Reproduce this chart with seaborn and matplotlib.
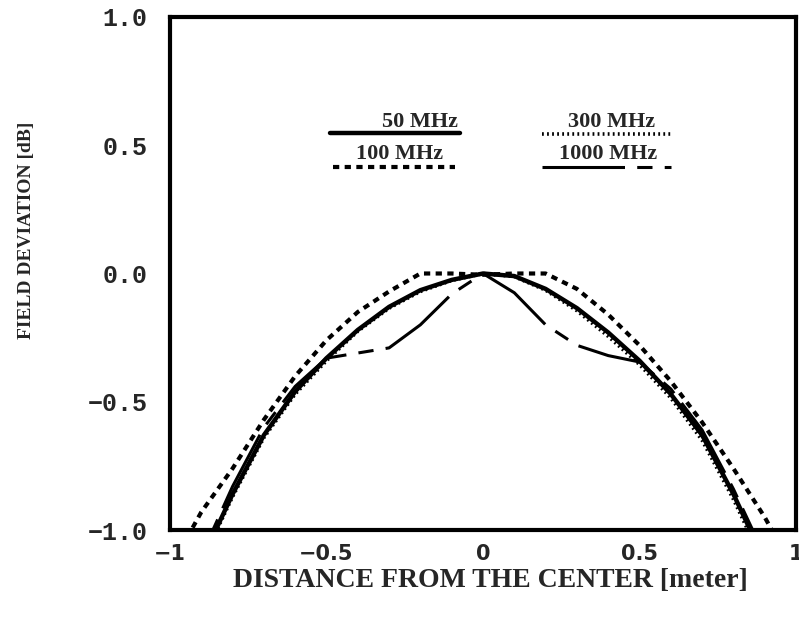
import matplotlib
matplotlib.use("Agg")
import matplotlib.pyplot as plt
import seaborn as sns
import numpy as np
import pandas as pd

sns.set_style("white")
plt.rcParams['font.family'] = ['DejaVu Serif', 'DejaVu Sans']

# ---- data ----
x_pos = [-1.0, -0.9, -0.8, -0.7, -0.6, -0.5, -0.4, -0.3, -0.2, -0.1, 0.0,
         0.1, 0.2, 0.3, 0.4, 0.5, 0.6, 0.7, 0.8, 0.9, 1.0]
mhz50 = [-1.45, -1.12, -0.86, -0.63, -0.46, -0.33, -0.22, -0.13, -0.065, -0.025, 0.0,
         -0.01, -0.06, -0.135, -0.23, -0.34, -0.47, -0.63, -0.86, -1.12, -1.45]
mhz100 = [-1.15, -0.93, -0.76, -0.57, -0.40, -0.26, -0.15, -0.07, 0.0, 0.0, -0.005,
          0.0, 0.0, -0.06, -0.16, -0.28, -0.42, -0.58, -0.76, -0.95, -1.17]
mhz300 = [-1.47, -1.13, -0.87, -0.64, -0.47, -0.34, -0.225, -0.135, -0.07, -0.027, 0.0,
          -0.012, -0.065, -0.145, -0.245, -0.355, -0.485, -0.65, -0.88, -1.14, -1.47]
mhz1000 = [-1.45, -1.1, -0.83, -0.60, -0.44, -0.33, -0.31, -0.29, -0.20, -0.08, 0.0,
           -0.075, -0.20, -0.28, -0.32, -0.345, -0.45, -0.61, -0.84, -1.1, -1.45]

legend_labels = ["50 MHz", "100 MHz", "300 MHz", "1000 MHz"]
x_ticks = [-1, -0.5, 0, 0.5, 1]
x_tick_labels = ["\u22121", "\u22120.5", "0", "0.5", "1"]
y_ticks = [-1.0, -0.5, 0.0, 0.5, 1.0]
y_tick_labels = ["\u22121.0", "\u22120.5", "0.0", "0.5", "1.0"]

styles = {
    "50 MHz": dict(linestyle="-", linewidth=3.2),
    "100 MHz": dict(linestyle=(0, (1.5, 1.3)), linewidth=3.0),
    "300 MHz": dict(linestyle=(0, (0.5, 0.9)), linewidth=2.6),
    "1000 MHz": dict(linestyle=(0, (27, 4, 5, 4)), linewidth=2.2),
}
series = {"50 MHz": mhz50, "100 MHz": mhz100, "300 MHz": mhz300, "1000 MHz": mhz1000}

fig = plt.figure(figsize=(7.99, 6.21), dpi=100)
ax = fig.add_axes([170 / 799, 91 / 621, 626 / 799, 513 / 621])

for name, vals in series.items():
    df = pd.DataFrame({"x": x_pos, "y": vals})
    sns.lineplot(data=df, x="x", y="y", ax=ax, color="black", sort=True,
                 estimator=None, **styles[name])

ax.set_xlim(-1, 1)
ax.set_ylim(-1, 1)
ax.set_xticks(x_ticks)
ax.set_xticklabels(x_tick_labels, fontsize=15, fontweight="bold", family="DejaVu Sans")
ax.set_yticks(y_ticks)
ax.set_yticklabels(y_tick_labels, fontsize=18, fontweight="bold", family="Liberation Mono")
ax.tick_params(axis="both", direction="in", length=6, width=2, color="black")
ax.tick_params(axis="x", pad=10)
ax.tick_params(axis="y", pad=16)
for s in ax.spines.values():
    s.set_linewidth(3)
    s.set_color("black")

ax.set_xlabel("DISTANCE FROM THE CENTER [meter]", fontsize=20, fontweight="bold",
              family="Liberation Serif")
ax.xaxis.set_label_coords(0.511, -0.075)
ax.set_ylabel("FIELD DEVIATION [dB]", fontsize=14, fontweight="bold",
              family="Liberation Serif")
ax.yaxis.set_label_coords(-0.215, 0.585)

# ---- legend drawn as text with sample lines underneath ----
# (text centre x, text baseline y, line x0, line x1, line y) in axes fractions
leg_pos = {
    "50 MHz": (0.40, 0.786, 0.256, 0.463, 0.774),
    "100 MHz": (0.367, 0.724, 0.26, 0.455, 0.708),
    "300 MHz": (0.706, 0.786, 0.595, 0.80, 0.772),
    "1000 MHz": (0.70, 0.724, 0.595, 0.80, 0.708),
}
for name in legend_labels:
    xt, yt, x0, x1, yl = leg_pos[name]
    ax.text(xt, yt, name, ha="center", va="baseline", fontsize=16, fontweight="bold",
            family="Liberation Serif", transform=ax.transAxes)
    ax.plot([x0, x1], [yl, yl], color="black", transform=ax.transAxes,
            clip_on=False, **styles[name])

fig.savefig("out.png", dpi=100)
